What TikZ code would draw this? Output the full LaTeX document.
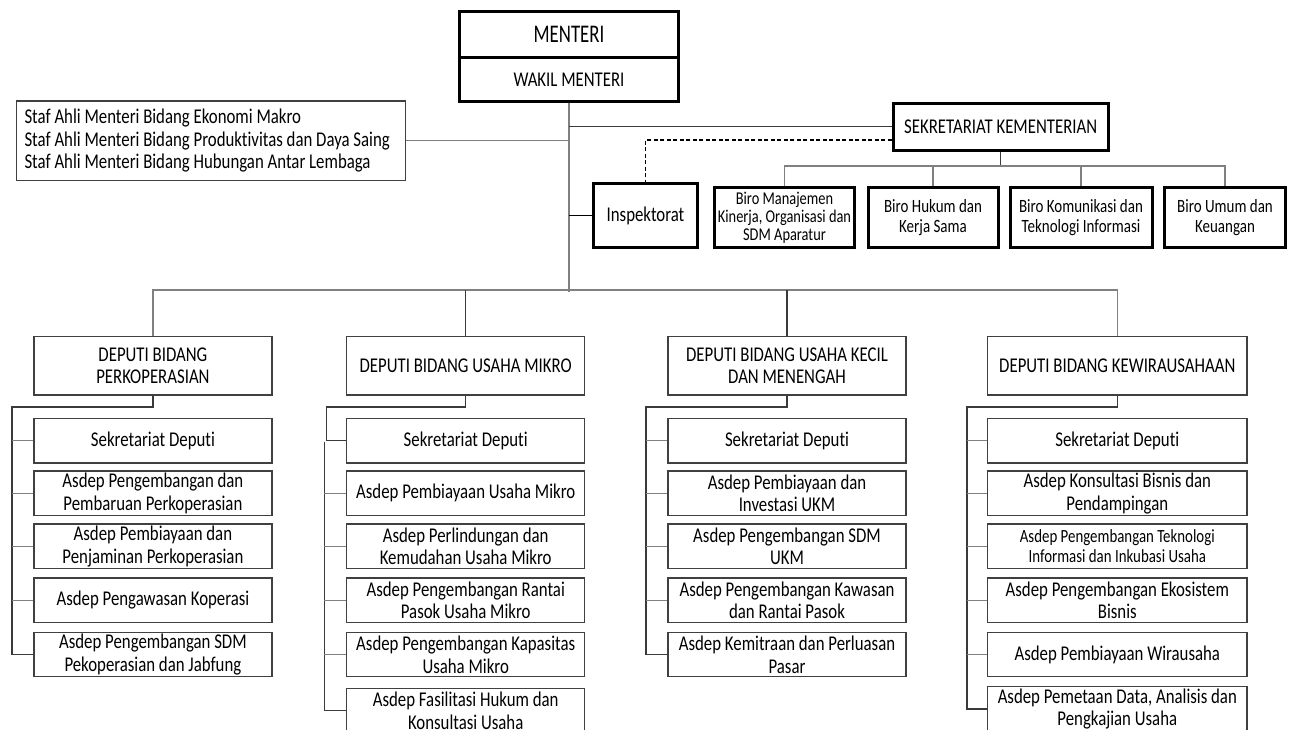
\documentclass[tikz,border=0pt]{standalone}
\usepackage{fontspec}
\setmainfont{Carlito}[FakeStretch=0.8,Ligatures=NoCommon]
\newfontfamily\menfamily{Carlito}[FakeStretch=0.74,Ligatures=NoCommon]
\definecolor{boxgray}{HTML}{404040}
\definecolor{linegray}{HTML}{808080}
\definecolor{darkline}{HTML}{3A3A3A}
\newcommand\orgMain{\fontsize{21}{22.7}\selectfont}
\newcommand\orgDep{\fontsize{21}{21.5}\selectfont}
\newcommand\orgMen{\menfamily\fontsize{25.4}{26}\selectfont}
\newcommand\orgBiro{\fontsize{18.75}{20}\selectfont}
\newcommand\orgBiroSm{\fontsize{18}{18}\selectfont}
\newcommand\orgSmall{\fontsize{18.6}{20.7}\selectfont}
\begin{document}
\begin{tikzpicture}[x=1pt,y=-1pt,
  box/.style={draw=boxgray,line width=1.3pt,fill=white,align=center,inner sep=0pt,font=\orgMain},
  thickbox/.style={draw=black,line width=3pt,fill=white,align=center,inner sep=0pt,font=\orgMain},
  birobox/.style={thickbox,minimum height=60pt,font=\orgBiro},
  depA/.style={box,minimum width=238pt,minimum height=58.3pt,font=\orgDep},
  depB/.style={box,minimum width=259.5pt,minimum height=58.3pt,font=\orgDep},
  unitA/.style={box,minimum width=238pt,minimum height=44.5pt},
  unitB/.style={box,minimum width=259.5pt,minimum height=44.5pt},
  trunk/.style={draw=linegray,line width=1.3pt},
  link/.style={draw=darkline,line width=1.3pt},
  brk/.style={draw=darkline,line width=1.3pt},
  stub/.style={draw=linegray,line width=1.3pt},
  dashline/.style={draw=black,line width=1.8pt,dash pattern=on 4pt off 2.5pt}]

\useasboundingbox (0,0) rectangle (1291,730);
\fill[white] (0,0) rectangle (1291,730);
\clip (0,0) rectangle (1291,730);

% ---------- top level ----------
\node[thickbox,minimum width=219pt,minimum height=45.6pt,font=\orgMen] (menteri) at (569,34.5) {MENTERI};
\node[thickbox,minimum width=219pt,minimum height=44.4pt] (wakil) at (569,79.5) {WAKIL MENTERI};

\node[box,align=flush left,text width=373pt,inner xsep=7.7pt,minimum height=79.3pt] (staf) at (211,140.7)
  {\mbox{Staf Ahli Menteri Bidang Ekonomi Makro}\\
   \mbox{Staf Ahli Menteri Bidang Produktivitas dan Daya Saing}\\
   \mbox{Staf Ahli Menteri Bidang Hubungan Antar Lembaga}};

\node[thickbox,minimum width=214.7pt,minimum height=46.7pt] (sek) at (1000.7,126.7) {SEKRETARIAT KEMENTERIAN};
\node[thickbox,minimum width=104pt,minimum height=63.7pt] (insp) at (645.5,215.8) {Inspektorat};

\node[birobox,minimum width=140pt,font=\orgBiroSm] (b1) at (784.5,217.5) {Biro Manajemen\\Kinerja, Organisasi dan\\SDM Aparatur};
\node[birobox,minimum width=130pt] (b2) at (933,217.5) {Biro Hukum dan\\Kerja Sama};
\node[birobox,minimum width=142pt] (b3) at (1081,217.5) {Biro Komunikasi dan\\Teknologi Informasi};
\node[birobox,minimum width=121pt] (b4) at (1225,217.5) {Biro Umum dan\\Keuangan};

% trunk and top connectors
\coordinate (trunkend) at (569,292);
\coordinate (hub) at (569,290);
\coordinate (birobus) at (1000.7,166);
\draw[trunk] (wakil.south) -- (trunkend);
\draw[trunk] (staf.east) -- (staf.east -| trunkend);
\draw[link] (sek.west) -- (sek.west -| trunkend);
\draw[draw=black,line width=1.3pt] (insp.west) -- (insp.west -| trunkend);
\draw[dashline] ([yshift=-13.3pt]sek.west) -| (insp.north);
\draw[link] (sek.south) -- (birobus);
\draw[trunk] (b1.north) |- (birobus) -| (b4.north);
\draw[trunk] (b2.north) -- (b2.north |- birobus);
\draw[trunk] (b3.north) -- (b3.north |- birobus);

% ---------- deputies ----------
\node[depA] (d1) at (152.9,365.8) {DEPUTI BIDANG\\PERKOPERASIAN};
\node[depA] (d2) at (465.7,365.8) {DEPUTI BIDANG USAHA MIKRO};
\node[depA] (d3) at (787,365.8) {DEPUTI BIDANG USAHA KECIL\\DAN MENENGAH};
\node[depB] (d4) at (1117.3,365.8) {DEPUTI BIDANG KEWIRAUSAHAAN};

\draw[trunk] (d1.north) |- (hub) -| (d4.north);
\draw[link] (d2.north) -- (d2.north |- hub);
\draw[link] (d3.north) -- (d3.north |- hub);

% ---------- column 1 ----------
\node[unitA] (a11) at (152.9,440.75) {Sekretariat Deputi};
\node[unitA] (a12) at (152.9,493.25) {Asdep Pengembangan dan\\Pembaruan Perkoperasian};
\node[unitA] (a13) at (152.9,546.25) {Asdep Pembiayaan dan\\Penjaminan Perkoperasian};
\node[unitA] (a14) at (152.9,600.25) {Asdep Pengawasan Koperasi};
\node[unitA] (a15) at (152.9,654.5) {Asdep Pengembangan SDM\\Pekoperasian dan Jabfung};
\coordinate (c1) at (12,407);
\draw[brk] (d1.south) |- (c1) |- (a15.west);
\foreach \n in {a11,a12,a13,a14} \draw[stub] (\n.west) -- (\n.west -| c1);

% ---------- column 2 ----------
\node[unitA] (a21) at (465.7,440.75) {Sekretariat Deputi};
\node[unitA] (a22) at (465.7,493.25) {Asdep Pembiayaan Usaha Mikro};
\node[unitA] (a23) at (465.7,546.25) {Asdep Perlindungan dan\\Kemudahan Usaha Mikro};
\node[unitA] (a24) at (465.7,600.25) {Asdep Pengembangan Rantai\\Pasok Usaha Mikro};
\node[unitA] (a25) at (465.7,654.5) {Asdep Pengembangan Kapasitas\\Usaha Mikro};
\node[unitA] (a26) at (465.7,710.5) {Asdep Fasilitasi Hukum dan\\Konsultasi Usaha};
\coordinate (c2) at (326.7,407);
\coordinate (c2b) at (324.3,441.7);
\draw[brk] (d2.south) |- (c2) |- (a21.west);
\draw[brk] (c2b) |- (a26.west);
\foreach \n in {a22,a23,a24,a25} \draw[stub] (\n.west) -- (\n.west -| c2b);

% ---------- column 3 ----------
\node[unitA] (a31) at (787,440.75) {Sekretariat Deputi};
\node[unitA] (a32) at (787,493.25) {Asdep Pembiayaan dan\\Investasi UKM};
\node[unitA] (a33) at (787,546.25) {Asdep Pengembangan SDM\\UKM};
\node[unitA] (a34) at (787,600.25) {Asdep Pengembangan Kawasan\\dan Rantai Pasok};
\node[unitA] (a35) at (787,654.5) {Asdep Kemitraan dan Perluasan\\Pasar};
\coordinate (c3) at (646,407);
\draw[brk] (d3.south) |- (c3) |- (a35.west);
\foreach \n in {a31,a32,a33,a34} \draw[stub] (\n.west) -- (\n.west -| c3);

% ---------- column 4 ----------
\node[unitB] (a41) at (1117.3,440.75) {Sekretariat Deputi};
\node[unitB] (a42) at (1117.3,493.25) {Asdep Konsultasi Bisnis dan\\Pendampingan};
\node[unitB,font=\orgSmall] (a43) at (1117.3,546.25) {Asdep Pengembangan Teknologi\\Informasi dan Inkubasi Usaha};
\node[unitB] (a44) at (1117.3,600.25) {Asdep Pengembangan Ekosistem\\Bisnis};
\node[unitB] (a45) at (1117.3,654.5) {Asdep Pembiayaan Wirausaha};
\node[unitB] (a46) at (1117.3,709) {Asdep Pemetaan Data, Analisis dan\\Pengkajian Usaha};
\coordinate (c4) at (967,407);
\draw[brk] (d4.south) |- (c4) |- (a46.west);
\foreach \n in {a41,a42,a43,a44,a45} \draw[stub] (\n.west) -- (\n.west -| c4);

\end{tikzpicture}
\end{document}
